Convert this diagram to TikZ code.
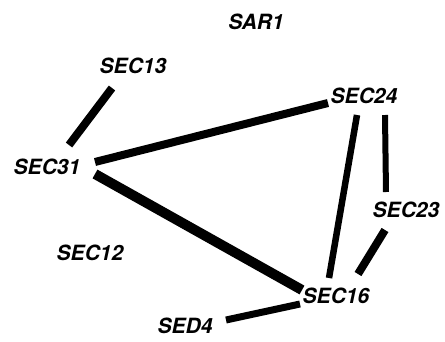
\documentclass[tikz,border=0pt]{standalone}
\usepackage{fontspec}
\setmainfont{TeX Gyre Heros}
\begin{document}
\begin{tikzpicture}[x=1pt,y=-1pt,
  lbl/.style={inner sep=0pt,font=\fontsize{21}{21}\selectfont\bfseries\itshape},
  edge/.style={line cap=butt,draw=black}]
\useasboundingbox[fill=white] (0,0) rectangle (445,341);
\node[lbl] (sar1)  at (256,22)  {SAR1};
\node[lbl] (sec13) at (133,66)  {SEC13};
\node[lbl] (sec31) at (47,167)  {SEC31};
\node[lbl] (sec24) at (364,96)  {SEC24};
\node[lbl] (sec23) at (406,210) {SEC23};
\node[lbl] (sec12) at (90,253)  {SEC12};
\node[lbl] (sec16) at (336,296) {SEC16};
\node[lbl] (sed4)  at (185,326) {SED4};
\draw[edge,line width=8pt] ([shift={(-21,22)}]sec13.center) -- ([shift={(22,-22)}]sec31.center);
\draw[edge,line width=8pt] ([shift={(48,-5)}]sec31.center) -- ([shift={(-36,7)}]sec24.center);
\draw[edge,line width=10pt] ([shift={(48,7)}]sec31.center) -- ([shift={(-34,-6)}]sec16.center);
\draw[edge,line width=6.5pt] ([shift={(-7,19)}]sec24.center) -- ([shift={(-7,-18)}]sec16.center);
\draw[edge,line width=6pt] ([shift={(21,19)}]sec24.center) -- ([shift={(-20,-18)}]sec23.center);
\draw[edge,line width=8pt] ([shift={(-21,20)}]sec23.center) -- ([shift={(22,-22)}]sec16.center);
\draw[edge,line width=7pt] ([shift={(41,-6)}]sed4.center) -- ([shift={(-36,8)}]sec16.center);
\end{tikzpicture}
\end{document}
